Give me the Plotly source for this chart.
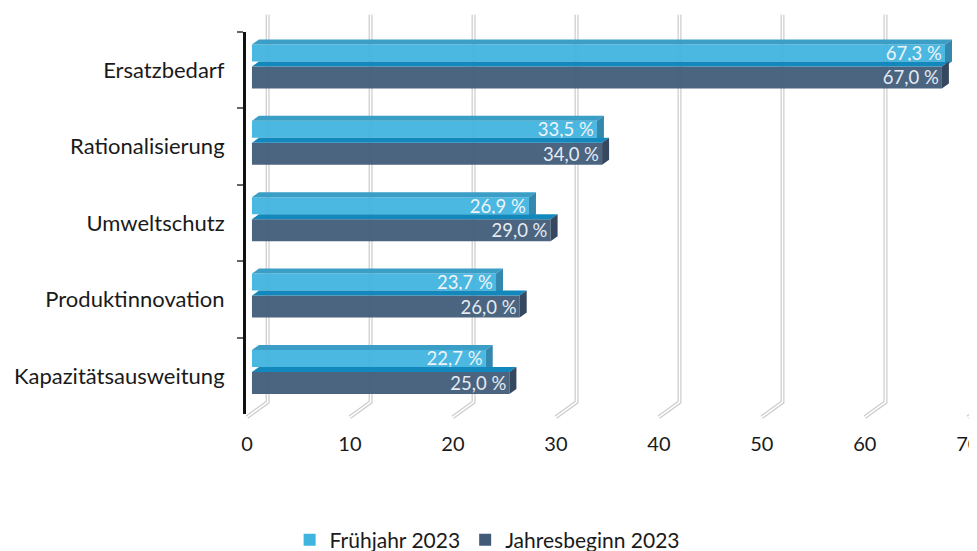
import plotly.graph_objects as go

# data
categories = ["Ersatzbedarf", "Rationalisierung", "Umweltschutz",
              "Produktinnovation", "Kapazitätsausweitung"]
fruehjahr = [67.3, 33.5, 26.9, 23.7, 22.7]
jahresbeginn = [67.0, 34.0, 29.0, 26.0, 25.0]
xticks = [0, 10, 20, 30, 40, 50, 60, 70]
series_names = ["Frühjahr 2023", "Jahresbeginn 2023"]

FONT = "Lato"
LIGHT = "#3fb4df"
DARK = "#405a78"

# bar geometry in axis units (category = 1, x = data units)
L_OFF, L_W = -0.338, 0.2225     # visible front of light bar
D_OFF, D_W = -0.050, 0.288      # front of dark bar
DX, DY = 0.68, 0.065            # 3d depth


def label(v):
    return f"{v:.1f} %".replace(".", ",")


fig = go.Figure()
fig.add_trace(go.Bar(
    y=categories, x=fruehjahr, orientation="h", name=series_names[0],
    offset=L_OFF, width=L_W, marker=dict(color=LIGHT, opacity=0.94, line=dict(width=0)),
    text=[label(v) for v in fruehjahr], textposition="inside", insidetextanchor="end",
    constraintext="none", textfont=dict(family=FONT, size=18.5, color="#eef4f8"),
))
fig.add_trace(go.Bar(
    y=categories, x=jahresbeginn, orientation="h", name=series_names[1],
    offset=D_OFF, width=D_W, marker=dict(color=DARK, opacity=0.94, line=dict(width=0)),
    text=[label(v) for v in jahresbeginn], textposition="inside", insidetextanchor="end",
    constraintext="none", textfont=dict(family=FONT, size=18.5, color="#e4ebf2"),
))

shapes = []
# 3d-looking grid walls behind the bars
for v in xticks:
    path = f"M {v + 1.52},1.045 L {v + 1.52},0.031 L {v - 0.49},-0.008"
    shapes.append(dict(type="path", path=path, xref="x", yref="paper", layer="below",
                       line=dict(color="#cdcdcd", width=4)))
    shapes.append(dict(type="path", path=path, xref="x", yref="paper", layer="below",
                       line=dict(color="#ffffff", width=1.5)))


def face(pts, color):
    p = "M " + " L ".join(f"{x},{y}" for x, y in pts) + " Z"
    return dict(type="path", path=p, xref="x", yref="y", layer="above",
                fillcolor=color, line=dict(width=0))


for i, (a, b) in enumerate(zip(fruehjahr, jahresbeginn)):
    yt = i + L_OFF
    yb = i + D_OFF
    shapes.append(face([(0, yt), (a, yt), (a + DX, yt - DY), (DX, yt - DY)], "#3a9ec6"))
    shapes.append(face([(a, yt), (a + DX, yt - DY), (a + DX, yb - DY), (a, yb)], "#3488ad"))
    yd = i + D_OFF + D_W
    shapes.append(face([(0, yb), (b, yb), (b + DX, yb - DY), (DX, yb - DY)], "#1388bc"))
    shapes.append(face([(b, yb), (b + DX, yb - DY), (b + DX, yd - DY), (b, yd)], "#35485f"))

# the page body has an 8px margin, so the figure is a bit smaller than the window
fig.update_layout(
    width=969, height=543,
    margin=dict(l=238, r=4, t=24, b=137, autoexpand=False),
    paper_bgcolor="white", plot_bgcolor="white",
    barmode="overlay",
    shapes=shapes,
    font=dict(family=FONT, size=20, color="#1a1a1a"),
    legend=dict(orientation="h", x=0.06, y=-0.33, xanchor="left", yanchor="middle",
                font=dict(family=FONT, size=21, color="#1a1a1a")),
    showlegend=True,
)
fig.update_xaxes(
    range=[-0.58, 70.02], tickvals=xticks, showgrid=False, zeroline=False,
    showline=False, ticks="", ticklabelshift=-5, ticklabelstandoff=16,
    ticklabeloverflow="allow", automargin=False,
    tickfont=dict(family=FONT, size=20, color="#1a1a1a"),
)
fig.update_yaxes(
    categoryorder="array", categoryarray=categories, range=[4.5, -0.5],
    showgrid=False, zeroline=False, showline=True, linecolor="#111111", linewidth=3,
    ticks="outside", tickson="boundaries", ticklen=6, tickwidth=1.5, tickcolor="#666666",
    ticklabelstandoff=14, automargin=False,
    tickfont=dict(family=FONT, size=22, color="#1a1a1a"),
)

fig.write_html("out.html")
